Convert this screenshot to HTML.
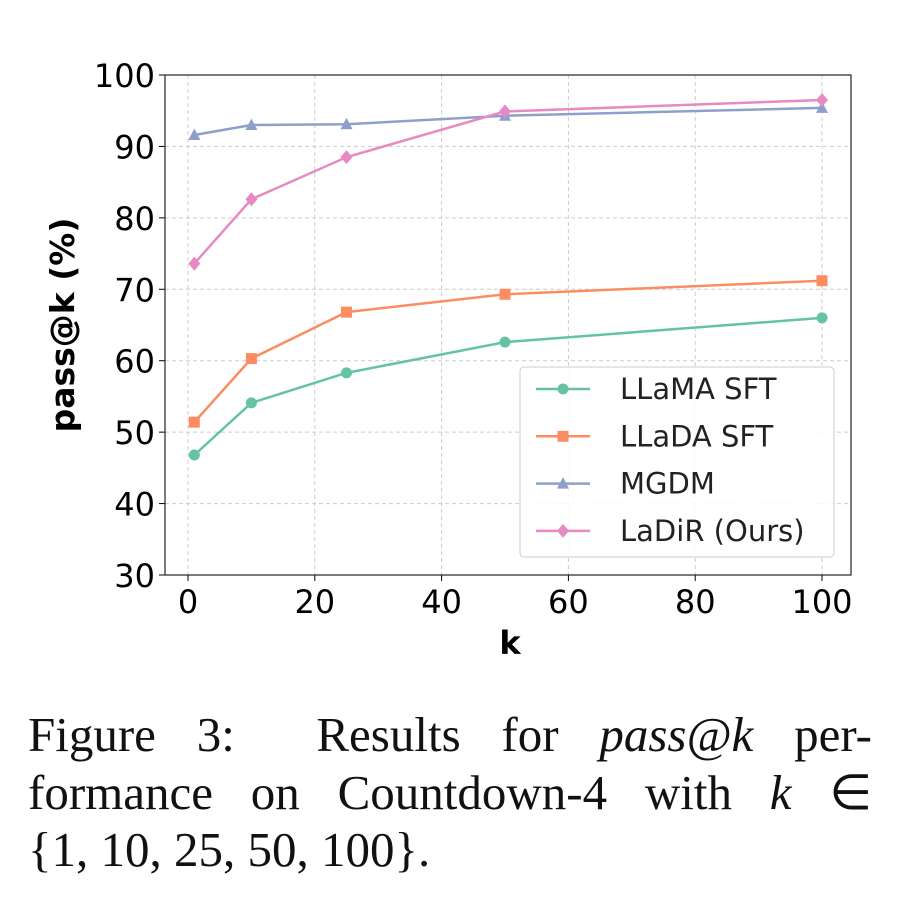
<!DOCTYPE html>
<html><head><meta charset="utf-8"><style>
body{margin:0;background:#fff;width:902px;height:916px;overflow:hidden;position:relative}
svg{position:absolute;left:0;top:0}
.cap{position:absolute;left:28px;width:844px;top:706px;font-family:"Liberation Serif",serif;font-size:49px;line-height:57.5px;color:#111}
.cap div{text-align:justify;text-align-last:justify;white-space:nowrap}
.cap div.last{text-align-last:left}
</style></head><body>
<svg id="chart" width="902" height="700"></svg>
<div class="cap">
<div style="white-space:normal">Figure 3:&nbsp; Results for <i>pass@k</i> per-</div>
<div style="white-space:normal">formance on Countdown-4 with <i>k</i> ∈</div>
<div class="last">{1, 10, 25, 50, 100}.</div>
</div>
<script>
const ks=[1,10,25,50,100];
const llama=[46.8,54.1,58.3,62.6,66.0];
const llada=[51.4,60.3,66.8,69.3,71.2];
const mgdm=[91.6,93.0,93.1,94.3,95.4];
const ladir=[73.6,82.6,88.5,94.9,96.5];
const xTicks=[0,20,40,60,80,100];
const yTicks=[30,40,50,60,70,80,90,100];
const names=["LLaMA SFT","LLaDA SFT","MGDM","LaDiR (Ours)"];
const svg=document.getElementById('chart');const NS='http://www.w3.org/2000/svg';
const L=165,R=851,T=75,B=575;
const X=v=>188+(v/100)*634;
const Y=v=>B-(v-30)/70*(B-T);
function mk(t,a,p){const e=document.createElementNS(NS,t);for(const k in a)e.setAttribute(k,a[k]);(p||svg).appendChild(e);return e;}
xTicks.forEach(t=>{const g=mk('line',{x1:X(t),x2:X(t),y1:T,y2:B,stroke:'#ccc','stroke-dasharray':'4,3','stroke-width':1});

mk('line',{x1:X(t),x2:X(t),y1:B,y2:B+6,stroke:'#000'});
const tx=mk('text',{x:X(t),y:B+38,'text-anchor':'middle','font-size':32,'font-family':'DejaVu Sans, sans-serif'});tx.textContent=t;
});
yTicks.forEach(t=>{const g=mk('line',{x1:L,x2:R,y1:Y(t),y2:Y(t),stroke:'#ccc','stroke-dasharray':'4,3','stroke-width':1});

mk('line',{x1:L-6,x2:L,y1:Y(t),y2:Y(t),stroke:'#000'});
const tx=mk('text',{x:L-10,y:Y(t)+12,'text-anchor':'end','font-size':32,'font-family':'DejaVu Sans, sans-serif'});tx.textContent=t;
});
const fr=mk('rect',{x:L,y:T,width:R-L,height:B-T,fill:'none',stroke:'#222','stroke-width':1.2});

const xl=mk('text',{x:510,y:654,'text-anchor':'middle','font-size':32,'font-weight':'bold','font-family':'DejaVu Sans, sans-serif'});xl.textContent='k';

const yl=mk('text',{x:0,y:0,transform:'translate(74,325) rotate(-90)','text-anchor':'middle','font-size':33,'font-weight':'bold','font-family':'DejaVu Sans, sans-serif'});yl.textContent='pass@k (%)';

const cols=['#66c2a5','#fc8d62','#8da0cb','#e78ac3'];const series=[llama,llada,mgdm,ladir];const shapes=['circle','square','triangle','diamond'];
function marker(s,x,y,c,g){if(s==='circle')return mk('circle',{cx:x,cy:y,r:5.5,fill:c},g);
if(s==='square')return mk('rect',{x:x-5.5,y:y-5.5,width:11,height:11,fill:c},g);
if(s==='triangle')return mk('polygon',{points:`${x},${y-6.5} ${x-6},${y+5} ${x+6},${y+5}`,fill:c},g);
return mk('polygon',{points:`${x},${y-7} ${x+6},${y} ${x},${y+7} ${x-6},${y}`,fill:c},g);}
series.forEach((s,i)=>{const g=mk('g',{});
const pl=mk('polyline',{points:s.map((v,j)=>X(ks[j])+','+Y(v)).join(' '),fill:'none',stroke:cols[i],'stroke-width':2.5},g);

s.forEach((v,j)=>{const m=marker(shapes[i],X(ks[j]),Y(v),cols[i],g);});});
const lg=mk('g',{});
mk('rect',{x:520,y:367,width:314,height:190,rx:4,fill:'#fff','fill-opacity':0.85,stroke:'#ccc'},lg);
names.forEach((n,i)=>{const y=389+i*47.3;const e=mk('g',{},lg);
mk('line',{x1:536,x2:590,y1:y,y2:y,stroke:cols[i],'stroke-width':2.5},e);marker(shapes[i],563,y,cols[i],e);
const t=mk('text',{x:620,y:y+10,'font-size':29,'font-family':'DejaVu Sans, sans-serif',fill:'#222'},e);t.textContent=n;});
</script>
</body></html>
